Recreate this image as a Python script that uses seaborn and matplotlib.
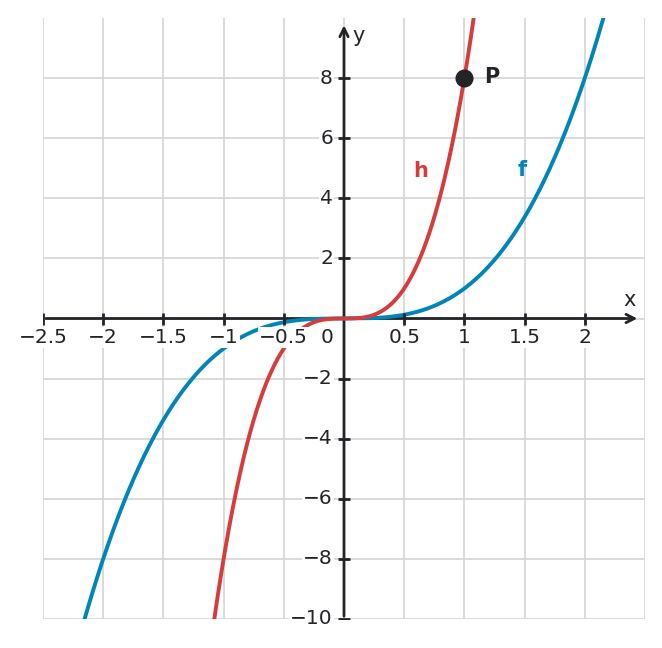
import matplotlib
matplotlib.use("Agg")
import matplotlib.pyplot as plt
import seaborn as sns
import numpy as np
import pandas as pd

# function graphs f(x) = x^3 and h(x) = 8x^3, point P(1, 8)
f_coef = 1
h_coef = 8
p_x, p_y = 1, 8

x_ticks = [-2.5, -2, -1.5, -1, -0.5, 0.5, 1, 1.5, 2]
x_labels = ["\u22122.5", "\u22122", "\u22121.5", "\u22121", "\u22120.5", "0.5", "1", "1.5", "2"]
y_ticks = [-10, -8, -6, -4, -2, 2, 4, 6, 8]
y_labels = ["\u221210", "\u22128", "\u22126", "\u22124", "\u22122", "2", "4", "6", "8"]

red = "#d63c3c"
blue = "#0085b8"
dark = "#222428"

xs = np.linspace(-2.5, 2.5, 801)
df = pd.DataFrame({"x": xs, "f": f_coef * xs**3, "h": h_coef * xs**3})

sns.set_style("white")
plt.rcParams['font.family'] = ['DejaVu Sans']

fig = plt.figure(figsize=(6.62, 6.48), dpi=100)
ax = fig.add_axes([43/662, 29/648, 602/662, 601/648])

sns.lineplot(data=df, x="x", y="f", color=blue, linewidth=2.8, ax=ax, zorder=4)
sns.lineplot(data=df, x="x", y="h", color=red, linewidth=2.8, ax=ax, zorder=4)

ax.set_xlim(-2.5, 2.5)
ax.set_ylim(-10, 10)
for s in ax.spines.values():
    s.set_visible(False)
ax.set_xticks([])
ax.set_yticks([])
ax.set_xlabel("")
ax.set_ylabel("")

# grid
for gx in np.arange(-2.5, 2.51, 0.5):
    ax.axvline(gx, color="#d4d4d4", linewidth=1.2, zorder=0)
for gy in np.arange(-10, 9, 2):
    ax.axhline(gy, color="#d4d4d4", linewidth=1.2, zorder=0)

# axes with arrows
ax.annotate("", xy=(2.46, 0), xytext=(-2.5, 0),
            arrowprops=dict(arrowstyle="->,head_length=0.6,head_width=0.3", color=dark, lw=2),
            zorder=3)
ax.annotate("", xy=(0, 9.85), xytext=(0, -10),
            arrowprops=dict(arrowstyle="->,head_length=0.6,head_width=0.3", color=dark, lw=2),
            zorder=3)

ax.plot(x_ticks, [0] * len(x_ticks), linestyle="none", marker="|", markersize=9,
        markeredgewidth=2, color=dark, zorder=4.5)
ax.plot([0] * len(y_ticks), y_ticks, linestyle="none", marker="_", markersize=9,
        markeredgewidth=2, color=dark, zorder=4.5)

box = dict(facecolor="white", edgecolor="none", pad=1)
for t, lab in zip(x_ticks, x_labels):
    ax.annotate(lab, (t, 0), xytext=(0, -13.7), textcoords="offset points",
                ha="center", va="center", fontsize=14.5, color=dark, bbox=box, zorder=5)
for t, lab in zip(y_ticks, y_labels):
    ax.annotate(lab, (0, t), xytext=(-8, 0), textcoords="offset points",
                ha="right", va="center", fontsize=14.5, color=dark, bbox=box, zorder=5)
ax.annotate("0", (0, 0), xytext=(-12, -13.7), textcoords="offset points",
            ha="center", va="center", fontsize=14.5, color=dark, bbox=box, zorder=5)

ax.text(2.37, 0.63, "x", fontsize=15, color=dark, ha="center", va="center")
ax.text(0.12, 9.4, "y", fontsize=15, color=dark, ha="center", va="center")

# point P and curve labels
ax.plot([p_x], [p_y], marker="o", markersize=12, color=dark, zorder=6)
ax.text(p_x + 0.23, p_y + 0.05, "P", fontsize=15, fontweight="bold", color=dark,
        ha="center", va="center")
ax.text(0.64, 4.9, "h", fontsize=15, fontweight="bold", color=red, ha="center", va="center")
ax.text(1.48, 4.93, "f", fontsize=15, fontweight="bold", color=blue, ha="center", va="center")

fig.savefig("out.png", dpi=100)
